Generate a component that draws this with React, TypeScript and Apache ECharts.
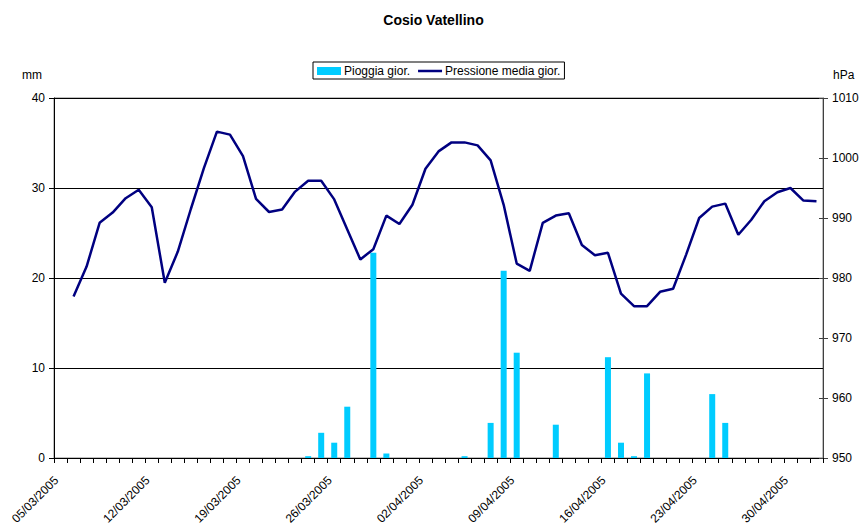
import React, { useEffect, useRef } from "react";
import * as echarts from "echarts";

const dates: string[] = [
  "05/03/2005", "06/03/2005", "07/03/2005", "08/03/2005", "09/03/2005", "10/03/2005", "11/03/2005",
  "12/03/2005", "13/03/2005", "14/03/2005", "15/03/2005", "16/03/2005", "17/03/2005", "18/03/2005",
  "19/03/2005", "20/03/2005", "21/03/2005", "22/03/2005", "23/03/2005", "24/03/2005", "25/03/2005",
  "26/03/2005", "27/03/2005", "28/03/2005", "29/03/2005", "30/03/2005", "31/03/2005", "01/04/2005",
  "02/04/2005", "03/04/2005", "04/04/2005", "05/04/2005", "06/04/2005", "07/04/2005", "08/04/2005",
  "09/04/2005", "10/04/2005", "11/04/2005", "12/04/2005", "13/04/2005", "14/04/2005", "15/04/2005",
  "16/04/2005", "17/04/2005", "18/04/2005", "19/04/2005", "20/04/2005", "21/04/2005", "22/04/2005",
  "23/04/2005", "24/04/2005", "25/04/2005", "26/04/2005", "27/04/2005", "28/04/2005", "29/04/2005",
  "30/04/2005", "01/05/2005", "02/05/2005",
];

const rain: number[] = [
  0, 0, 0, 0, 0, 0, 0,
  0, 0, 0, 0, 0, 0, 0,
  0, 0, 0, 0, 0, 0.2, 2.8,
  1.7, 5.7, 0, 22.8, 0.5, 0, 0,
  0, 0, 0, 0.2, 0, 3.9, 20.8,
  11.7, 0, 0, 3.7, 0, 0, 0,
  11.2, 1.7, 0.2, 9.4, 0, 0, 0,
  0, 7.1, 3.9, 0, 0, 0, 0,
  0, 0, 0,
];

const pressure: (number | null)[] = [
  null, 976.9, 981.9, 989.2, 990.9, 993.3, 994.7,
  991.8, 979.2, 984.4, 991.5, 998.3, 1004.4, 1003.9,
  1000.3, 993.2, 991.0, 991.4, 994.4, 996.2, 996.2,
  993.1, 988.1, 983.1, 984.8, 990.4, 989.0, 992.2,
  998.2, 1001.1, 1002.6, 1002.6, 1002.1, 999.6, 992.2,
  982.4, 981.2, 989.2, 990.4, 990.8, 985.5, 983.8,
  984.2, 977.4, 975.3, 975.3, 977.7, 978.2, 983.9,
  990.0, 991.9, 992.4, 987.2, 989.7, 992.8, 994.3,
  995.0, 992.9, 992.8,
];

const FONT = "Liberation Sans, Arial, sans-serif";

export default function App() {
  const ref = useRef<HTMLDivElement>(null);
  useEffect(() => {
    if (!ref.current) return;
    const chart = echarts.init(ref.current, undefined, { renderer: "svg" });
    chart.setOption({
      animation: false,
      backgroundColor: "#ffffff",
      textStyle: { fontFamily: FONT },
      title: {
        text: "Cosio Vatellino",
        left: "center",
        top: 8,
        textStyle: { fontFamily: FONT, fontSize: 14, fontWeight: "bold", color: "#000" },
      },
      legend: {
        left: 313,
        top: 62,
        padding: [3, 4, 2, 4],
        borderColor: "#000",
        borderWidth: 1,
        itemGap: 8,
        itemWidth: 24,
        itemHeight: 8,
        textStyle: { fontFamily: FONT, fontSize: 12, color: "#000", padding: [0, 0, 0, -2] },
        data: [
          { name: "Pioggia gior.", icon: "rect" },
          { name: "Pressione media gior.", icon: "path://M0,0H24V2.5H0Z" },
        ],
      },
      graphic: [
        { type: "text", left: 22, top: 69, style: { text: "mm", font: `12px ${FONT}`, fill: "#000" } },
        { type: "text", left: 833, top: 69, style: { text: "hPa", font: `12px ${FONT}`, fill: "#000" } },
      ],
      grid: {
        left: 54,
        right: 44,
        top: 98,
        bottom: 71,
        show: true,
        borderColor: "#808080",
        borderWidth: 1,
        containLabel: false,
        outerBoundsMode: "none",
      },
      xAxis: {
        type: "category",
        data: dates,
        boundaryGap: true,
        axisLine: { show: true, lineStyle: { color: "#000", width: 1 } },
        axisTick: { show: true, interval: 0, length: 5, lineStyle: { color: "#000" } },
        axisLabel: {
          interval: 6,
          rotate: 45,
          margin: 16,
          padding: [0, 6, 0, 0],
          fontFamily: FONT,
          fontSize: 12,
          color: "#000",
        },
        splitLine: { show: false },
      },
      yAxis: [
        {
          type: "value",
          min: 0,
          max: 40,
          interval: 10,
          position: "left",
          axisLine: { show: true, lineStyle: { color: "#000", width: 1 } },
          axisTick: { show: true, length: 5, lineStyle: { color: "#000" } },
          axisLabel: { margin: 9, fontFamily: FONT, fontSize: 12, color: "#000" },
          splitLine: { show: true, lineStyle: { color: "#000", width: 1 } },
        },
        {
          type: "value",
          min: 950,
          max: 1010,
          interval: 10,
          position: "right",
          axisLine: { show: true, lineStyle: { color: "#404040", width: 1 } },
          axisTick: { show: true, length: 5, lineStyle: { color: "#404040" } },
          axisLabel: {
            margin: 9,
            fontFamily: FONT,
            fontSize: 12,
            color: "#000",
            formatter: (v: number) => String(v),
          },
          splitLine: { show: false },
        },
        {
          type: "value",
          min: 950,
          max: 1010,
          interval: 10,
          position: "right",
          axisLine: { show: false },
          axisTick: { show: true, inside: true, length: 4, lineStyle: { color: "#404040" } },
          axisLabel: { show: false },
          splitLine: { show: false },
        },
      ],
      series: [
        {
          name: "Pioggia gior.",
          type: "bar",
          yAxisIndex: 0,
          data: rain,
          barWidth: 6,
          itemStyle: { color: "#00CCFF" },
        },
        {
          name: "Pressione media gior.",
          type: "line",
          yAxisIndex: 1,
          data: pressure,
          symbol: "none",
          showSymbol: false,
          lineStyle: { color: "#000080", width: 2.5 },
          itemStyle: { color: "#000080" },
          z: 3,
        },
      ],
    });
    return () => chart.dispose();
  }, []);
  return (
    <div
      ref={ref}
      style={{ position: "fixed", left: 0, top: 0, width: 867, height: 529 }}
    />
  );
}
